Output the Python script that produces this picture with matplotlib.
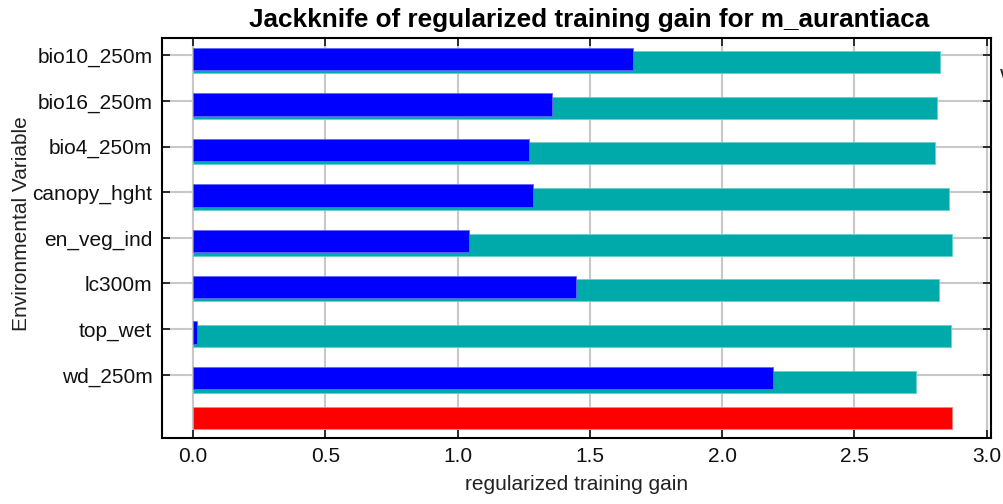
import numpy as np
import matplotlib
matplotlib.use('Agg')
import matplotlib.pyplot as plt

plt.rcParams['font.family'] = ['Liberation Sans', 'DejaVu Sans']

variables = ['bio10_250m', 'bio16_250m', 'bio4_250m', 'canopy_hght',
             'en_veg_ind', 'lc300m', 'top_wet', 'wd_250m']
without_var = [2.824, 2.813, 2.804, 2.857, 2.870, 2.818, 2.863, 2.734]
only_var = [1.663, 1.356, 1.271, 1.285, 1.044, 1.447, 0.016, 2.192]
all_vars = 2.870

fig = plt.figure(figsize=(10.04, 5.04), dpi=100)
ax = fig.add_axes([0.1614, 0.1315, 0.8254, 0.7931])

y_pos = np.arange(len(variables))
ax.barh(y_pos - 0.09, without_var, height=0.48, align='edge',
        color='#00aaaa', edgecolor='#66d0d0', linewidth=0.6, zorder=3)
ax.barh(y_pos - 0.17, only_var, height=0.49, align='edge',
        color='#0000ff', edgecolor='#6666ff', linewidth=0.6, zorder=4)
ax.barh([len(variables) - 0.30], [all_vars], height=0.49, align='edge',
        color='#ff0000', edgecolor='#ff8080', linewidth=0.6, zorder=3)

ax.set_xlim(-0.117, 3.015)
ax.set_ylim(8.38, -0.38)
ax.set_xticks([0.0, 0.5, 1.0, 1.5, 2.0, 2.5, 3.0])
ax.set_xticklabels(['0.0', '0.5', '1.0', '1.5', '2.0', '2.5', '3.0'])
ax.set_yticks(y_pos)
ax.set_yticklabels(variables)
ax.grid(True, color='#c8c8c8', linewidth=1.5, zorder=0)
ax.set_axisbelow(True)
ax.tick_params(direction='in', length=6, width=1.2, labelsize=15,
               top=True, right=True, pad=7, colors='#111111')
for sp in ax.spines.values():
    sp.set_linewidth(1.5)

ax.set_title('Jackknife of regularized training gain for m_aurantiaca',
             fontsize=18.8, fontweight='bold', pad=8, x=0.515)
ax.set_xlabel('regularized training gain', fontsize=15, labelpad=6,
              color='#222222')
ax.set_ylabel('Environmental Variable', fontsize=15, color='#222222')
ax.yaxis.set_label_coords(-0.158, 0.535)

# legend cut off at the right edge
fig.text(0.996, 0.835, 'Without variable', fontsize=15, color='#222222')

fig.savefig('out.png', dpi=100)
